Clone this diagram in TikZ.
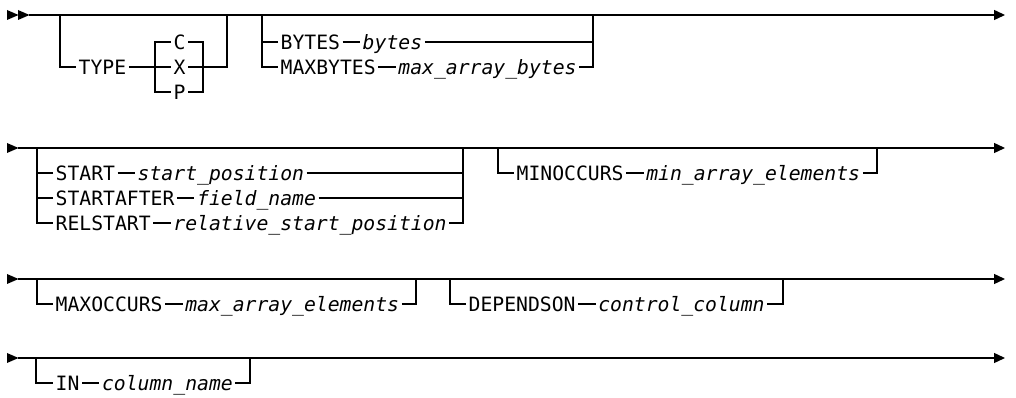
\documentclass[tikz,border=0pt]{standalone}
\usepackage{fontspec}
\newfontfamily\railfont{DejaVu Sans Mono}
\def\railsize{\fontsize{14.8pt}{17pt}\selectfont}
\usetikzlibrary{arrows.meta,positioning}

\begin{document}
\begin{tikzpicture}[x=0.75pt,y=-0.75pt,line width=1pt,node distance=13pt,
  kw/.style={font=\railfont\railsize,inner xsep=1.5pt,inner ysep=0pt,
             text height=10.8pt,text depth=0pt,anchor=west},
  var/.style={kw,font=\railfont\itshape\railsize},
  endarrow/.style={-{Triangle[length=8.25pt,width=7.5pt]}}]
\useasboundingbox (0,0) rectangle (1016,398);
%% Row heads and main lines
\foreach \x/\y in {7/15,18/15,7/148,7/279,7/358} {
   \fill (\x,\y-5) -- (\x+11.5,\y) -- (\x,\y+5) -- cycle;
}
\foreach \n/\xs/\y in {1/29/15,2/18/148,3/18/279,4/18/358} {
   \coordinate (s\n) at (\xs,\y);
   \coordinate (e\n) at (1005,\y);
   \draw[endarrow] (s\n) -- (e\n);
}
%% Row 1: TYPE
\coordinate (typeL) at (60,15);
\coordinate (typeR) at (227,15);
\coordinate (cxpR) at (203,67);
\node[kw] (typeKw) at (76,67) {TYPE};
\node[kw] (cKw) at (171,42) {C};
\node[kw] (xKw) at (171,67) {X};
\node[kw] (pKw) at (171,92) {P};
\draw (typeL) |- (typeKw.west);
\draw (typeKw.east) -- (xKw.west);
\draw (cKw.west) -- ++(-16,0) |- (pKw.west);
\draw (cKw.east) -| (cxpR) |- (pKw.east);
\draw (xKw.east) -- (cxpR) -| (typeR);
%% Row 1: BYTES / MAXBYTES
\coordinate (bytesL) at (262,15);
\coordinate (bytesR) at (593,15);
\node[kw] (bytesKw) at (278,42) {BYTES};
\node[var,right=of bytesKw] (bytesVar) {bytes};
\node[kw] (maxbKw) at (278,67) {MAXBYTES};
\node[var,right=of maxbKw] (maxbVar) {max\_array\_bytes};
\draw (bytesL) |- (maxbKw.west);
\draw (bytesKw.west) -- (bytesKw.west -| bytesL);
\draw (bytesKw) -- (bytesVar);
\draw (maxbKw) -- (maxbVar);
\draw (bytesVar.east) -- (bytesVar.east -| bytesR);
\draw (maxbVar.east) -| (bytesR);
%% Row 2: START / STARTAFTER / RELSTART
\coordinate (startL) at (37,148);
\coordinate (startR) at (463,148);
\node[kw] (startKw) at (53,173) {START};
\node[var,right=of startKw] (startVar) {start\_position};
\node[kw] (aftKw) at (53,198) {STARTAFTER};
\node[var,right=of aftKw] (aftVar) {field\_name};
\node[kw] (relKw) at (53,223) {RELSTART};
\node[var,right=of relKw] (relVar) {relative\_start\_position};
\draw (startL) |- (relKw.west);
\foreach \k/\v in {startKw/startVar,aftKw/aftVar} {
   \draw (\k.west) -- (\k.west -| startL);
   \draw (\v.east) -- (\v.east -| startR);
}
\foreach \k/\v in {startKw/startVar,aftKw/aftVar,relKw/relVar}
   \draw (\k) -- (\v);
\draw (relVar.east) -| (startR);
%% Row 2: MINOCCURS
\coordinate (minL) at (498,148);
\coordinate (minR) at (877,148);
\node[kw] (minKw) at (514,173) {MINOCCURS};
\node[var,right=of minKw] (minVar) {min\_array\_elements};
\draw (minL) |- (minKw.west);
\draw (minKw) -- (minVar);
\draw (minVar.east) -| (minR);
%% Row 3: MAXOCCURS
\coordinate (maxL) at (37,279);
\coordinate (maxR) at (416,279);
\node[kw] (maxKw) at (53,304) {MAXOCCURS};
\node[var,right=of maxKw] (maxVar) {max\_array\_elements};
\draw (maxL) |- (maxKw.west);
\draw (maxKw) -- (maxVar);
\draw (maxVar.east) -| (maxR);
%% Row 3: DEPENDSON
\coordinate (depL) at (450,279);
\coordinate (depR) at (783,279);
\node[kw] (depKw) at (466,304) {DEPENDSON};
\node[var,right=of depKw] (depVar) {control\_column};
\draw (depL) |- (depKw.west);
\draw (depKw) -- (depVar);
\draw (depVar.east) -| (depR);
%% Row 4: IN
\coordinate (inL) at (36,358);
\coordinate (inR) at (250,358);
\node[kw] (inKw) at (53,383) {IN};
\node[var,right=of inKw] (inVar) {column\_name};
\draw (inL) |- (inKw.west);
\draw (inKw) -- (inVar);
\draw (inVar.east) -| (inR);
\end{tikzpicture}
\end{document}
